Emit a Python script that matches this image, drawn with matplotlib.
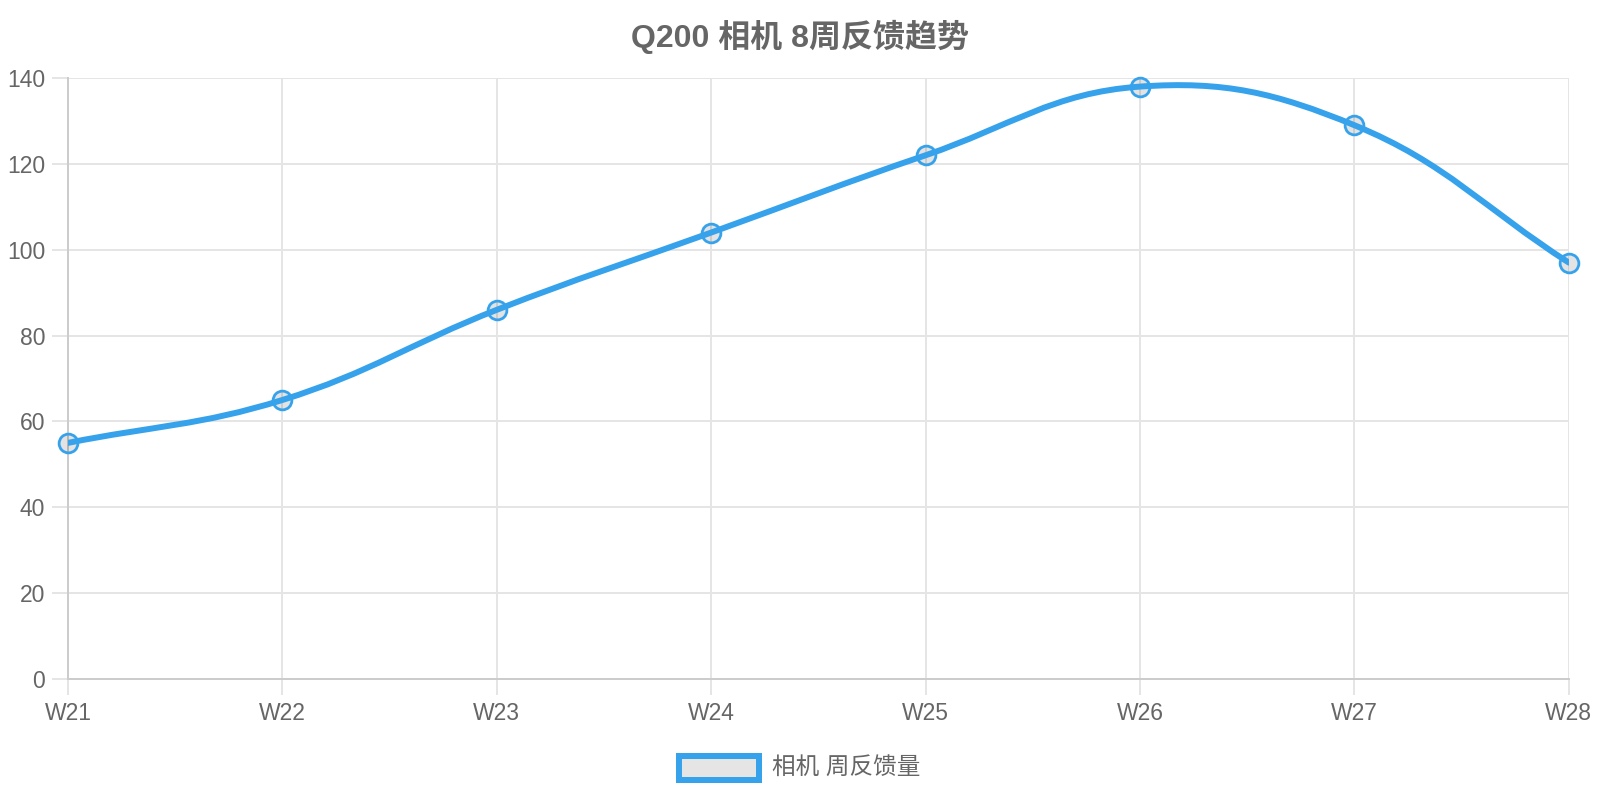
import numpy as np
import matplotlib
matplotlib.use('Agg')
import matplotlib.pyplot as plt
from matplotlib.path import Path
from matplotlib.patches import PathPatch, Rectangle

# dados
semanas = ['W21', 'W22', 'W23', 'W24', 'W25', 'W26', 'W27', 'W28']
feedback = [55, 65, 86, 104, 122, 138, 129, 97]
titulo = 'Q200 相机 8周反馈趋势'
serie = '相机 周反馈量'
yticks = [0, 20, 40, 60, 80, 100, 120, 140]

azul = '#36A2EB'
cinza_txt = '#666666'
cor_grade = '#e5e5e5'

plt.rcParams['font.family'] = ['Liberation Sans', 'Noto Sans CJK SC', 'DejaVu Sans']

fig = plt.figure(figsize=(16, 8), dpi=100)
ax = fig.add_axes([0.0425, 0.15125, 0.938, 0.75125])
x = np.arange(len(semanas))
ax.set_xlim(0, len(semanas) - 1)
ax.set_ylim(0, 140)

ax.set_xticks(x)
ax.set_xticklabels(semanas)
ax.set_yticks(yticks)
ax.grid(True, color=cor_grade, linewidth=1.44)
ax.set_axisbelow(True)
for s in ['top', 'right']:
    ax.spines[s].set_visible(False)
for s in ['left', 'bottom']:
    ax.spines[s].set_color('#cccccc')
    ax.spines[s].set_linewidth(1.44)
ax.tick_params(length=11.5, width=1.44, color=cor_grade, labelsize=16.5,
               labelcolor=cinza_txt, pad=5)

# curva estilo chart.js (tension 0.4), calculada em pixels
pts = ax.transData.transform(np.column_stack([x, feedback]))
t = 0.4
n = len(pts)
cp_ant = []
cp_prox = []
for i in range(n):
    prev = pts[max(i - 1, 0)]
    cur = pts[i]
    nxt = pts[min(i + 1, n - 1)]
    d01 = np.hypot(*(cur - prev))
    d12 = np.hypot(*(nxt - cur))
    tot = d01 + d12
    s01 = d01 / tot if tot else 0
    s12 = d12 / tot if tot else 0
    cp_ant.append(cur - t * s01 * (nxt - prev))
    cp_prox.append(cur + t * s12 * (nxt - prev))

verts = [pts[0]]
codes = [Path.MOVETO]
for i in range(n - 1):
    verts += [cp_prox[i], cp_ant[i + 1], pts[i + 1]]
    codes += [Path.CURVE4] * 3
verts = ax.transData.inverted().transform(np.array(verts))

ax.plot(x, feedback, 'o', ms=13.5, mfc=(0, 0, 0, 0.11), mec='none',
        zorder=3, clip_on=False)
ax.add_patch(PathPatch(Path(verts, codes), fill=False, edgecolor=azul,
                       linewidth=4.3, capstyle='round', joinstyle='round',
                       zorder=4))
ax.plot(x, feedback, 'o', ms=13.5, mfc='none', mec=azul, mew=2.0,
        zorder=5, clip_on=False)

# titulo
fig.text(0.5, (800 - 37) / 800, titulo, ha='center', va='center',
         fontsize=23, fontweight='bold', color=cinza_txt)

# legenda
fig.patches.append(Rectangle((679 / 1600, (800 - 780) / 800), 80 / 1600, 24 / 800,
                             transform=fig.transFigure, facecolor='#e5e5e5',
                             edgecolor=azul, linewidth=4.32))
fig.text(772 / 1600, (800 - 768) / 800, serie, ha='left', va='center',
         fontsize=17, color=cinza_txt)

fig.savefig('out.png', dpi=100)
